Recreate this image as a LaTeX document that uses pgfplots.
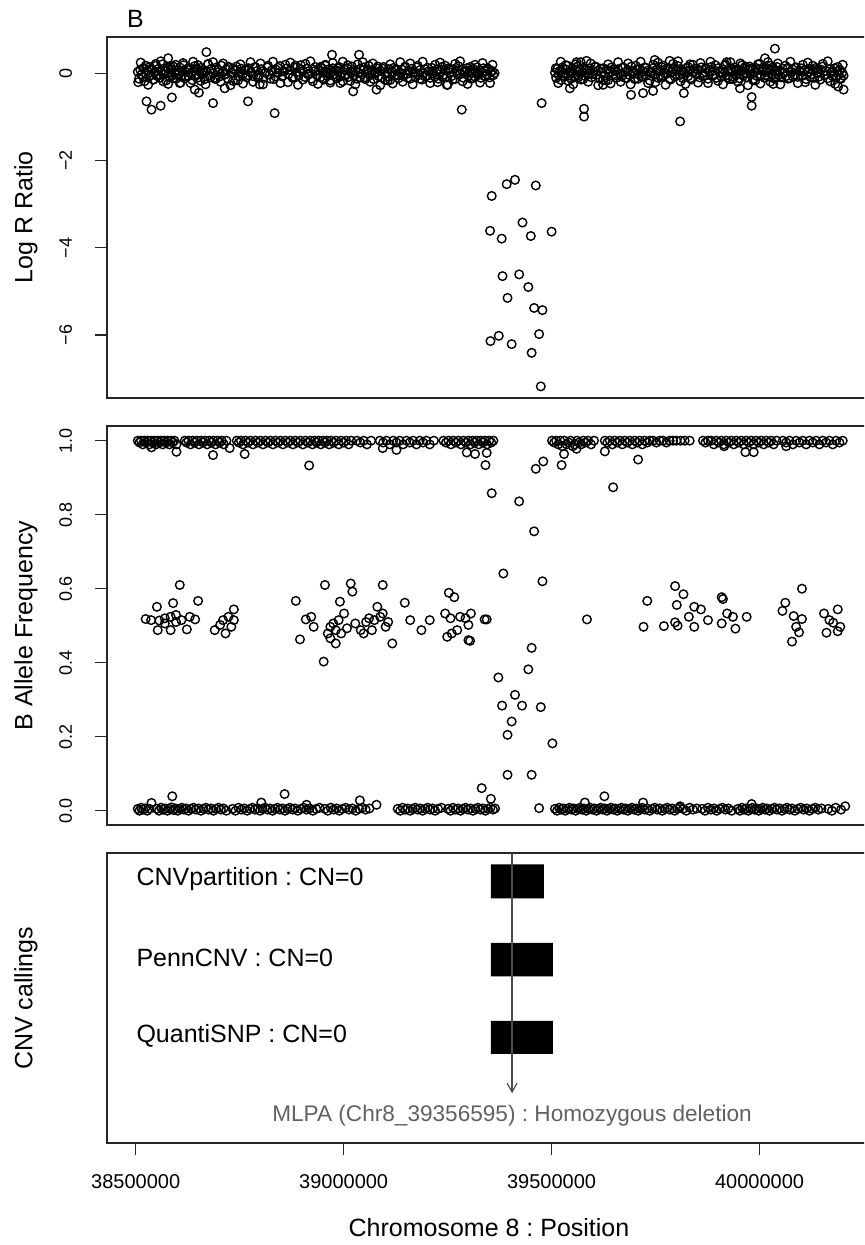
\documentclass[border=0pt]{standalone}
\usepackage{pgfplots}
\pgfplotsset{compat=1.18}
\usetikzlibrary{arrows.meta}
\usepackage{fontspec}
\setmainfont{Liberation Sans}
\frenchspacing
\begin{document}
\begin{tikzpicture}
\useasboundingbox (0,0) rectangle (432pt,622.5pt);
\clip (0,0) rectangle (432pt,622.5pt);
\pgfplotsset{
  myax/.style={
    scale only axis, width=382pt, xmin=38431, xmax=40268,
    scaled x ticks=false, scaled y ticks=false,
    axis line style={line width=0.8pt, black!85},
    tick style={line width=0.6pt, black!85},
    tick align=outside, major tick length=6pt,
    xtick pos=left, ytick pos=left,
    ylabel style={font=\fontsize{12.5}{14}\selectfont, at={(axis description cs:-0.106,0.5)}, anchor=center},
    yticklabel style={font=\fontsize{9}{10}\selectfont, xshift=-8pt, rotate=90, anchor=south},
    xticklabel style={font=\fontsize{10}{12}\selectfont},
  },
  pts/.style={only marks, mark=o, mark size=2.15pt, mark options={line width=0.7pt, black}, black},
}
\node[font=\fontsize{12.5}{14}\selectfont] at (67.75pt,613pt) {B};
% ---------------- Log R Ratio ----------------
\begin{axis}[myax, at={(53.5pt,423.5pt)}, anchor=south west, height=180.5pt,
  ymin=-7.446, ymax=0.838, xtick=\empty, ytick={-6,-4,-2,0}, yticklabels={−6,−4,−2,0},
  ylabel={Log R Ratio}]
\addplot[pts] coordinates {
(38505,0.04) (38508,-0.12) (38511,0.08) (38514,-0.02) (38518,0.12) (38521,-0.18) (38524,0.01) (38528,0.06) (38531,-0.08) (38534,0.15) (38537,-0.04) (38540,0.09) (38543,-0.14) (38546,0.03) (38549,0.18) (38552,-0.06) (38555,0.11) (38558,-0.10) (38561,0.05) (38564,0.21) (38567,-0.03) (38570,0.07) (38573,-0.16) (38576,0.13) (38579,0.00) (38582,-0.09) (38585,0.10) (38588,-0.05) (38591,0.16) (38594,0.02) (38597,-0.12) (38600,0.08) (38603,-0.02) (38606,0.14) (38609,-0.07) (38612,0.05) (38615,0.19) (38618,-0.11) (38621,0.03) (38624,0.09) (38627,-0.06) (38630,0.12) (38633,0.00) (38636,-0.15) (38639,0.07) (38642,0.17) (38645,-0.04) (38648,0.10) (38651,-0.09) (38654,0.04) (38657,0.13) (38660,-0.02) (38663,0.08) (38666,-0.13) (38670,0.06) (38674,0.22) (38678,-0.05) (38682,0.11) (38686,0.01) (38690,-0.10) (38694,0.14) (38698,0.03) (38702,-0.07) (38706,0.18) (38710,0.05) (38714,-0.03) (38718,0.09) (38722,-0.12) (38726,0.13) (38730,0.02) (38734,-0.17) (38738,0.07) (38742,0.16) (38746,-0.06) (38750,0.04) (38754,0.11) (38758,-0.01) (38762,0.08) (38767,-0.09) (38772,0.12) (38777,0.03) (38782,-0.06) (38787,0.15) (38792,0.06) (38797,-0.04) (38802,0.10) (38807,-0.11) (38812,0.02) (38817,0.14) (38822,-0.03) (38827,0.07) (38832,-0.13) (38837,0.09) (38842,0.01) (38847,0.17) (38852,-0.07) (38857,0.05) (38862,0.12) (38867,-0.02) (38872,0.08) (38877,-0.10) (38882,0.14) (38887,0.03) (38892,-0.05) (38897,0.19) (38902,0.06) (38907,-0.08) (38912,0.11) (38917,0.00) (38922,-0.12) (38927,0.09) (38932,0.15) (38936,-0.04) (38940,0.07) (38944,-0.09) (38947,0.13) (38950,0.02) (38953,-0.14) (38956,0.18) (38959,0.05) (38962,-0.06) (38965,0.10) (38968,-0.16) (38971,0.03) (38974,0.12) (38977,-0.02) (38980,0.08) (38983,-0.11) (38986,0.06) (38989,0.15) (38992,-0.07) (38995,0.01) (38998,-0.18) (39001,0.09) (39004,-0.03) (39008,0.12) (39012,-0.08) (39016,0.04) (39020,0.16) (39024,-0.05) (39028,0.07) (39032,-0.12) (39036,0.02) (39040,0.11) (39044,-0.02) (39048,0.14) (39052,-0.09) (39056,0.05) (39060,0.18) (39064,-0.04) (39068,0.08) (39072,-0.13) (39076,0.03) (39080,0.12) (39084,-0.06) (39088,0.06) (39092,-0.10) (39096,0.15) (39100,0.01) (39104,-0.07) (39108,0.10) (39112,-0.15) (39116,0.04) (39120,0.13) (39124,-0.03) (39128,0.07) (39132,-0.11) (39136,0.02) (39140,0.09) (39144,-0.06) (39148,0.16) (39152,-0.01) (39156,0.06) (39160,-0.12) (39164,0.11) (39168,0.03) (39172,-0.08) (39176,0.14) (39180,-0.04) (39184,0.08) (39188,-0.14) (39192,0.01) (39196,0.10) (39200,-0.05) (39204,0.05) (39208,-0.10) (39212,0.13) (39216,0.00) (39220,-0.07) (39224,0.09) (39228,-0.12) (39232,0.04) (39236,0.15) (39240,-0.03) (39244,0.07) (39248,-0.09) (39252,0.12) (39256,0.02) (39260,-0.06) (39264,0.10) (39268,-0.13) (39272,0.06) (39276,0.17) (39280,-0.02) (39284,0.08) (39288,-0.10) (39292,0.03) (39296,0.12) (39300,-0.05) (39303,0.07) (39306,-0.12) (39309,0.01) (39312,0.10) (39315,-0.07) (39318,0.04) (39321,0.14) (39324,-0.03) (39327,0.08) (39330,-0.10) (39333,0.02) (39336,0.12) (39339,-0.06) (39342,0.05) (39345,-0.02) (39348,0.09) (39351,-0.09) (39354,0.03) (39357,0.06) (39360,-0.04) (39363,0.01)
(39508,0.02) (39511,-0.10) (39514,0.11) (39517,-0.03) (39520,0.06) (39523,-0.15) (39526,0.14) (39529,0.00) (39532,-0.07) (39535,0.09) (39538,0.18) (39541,-0.05) (39544,0.04) (39547,-0.12) (39550,0.12) (39553,0.01) (39556,-0.08) (39559,0.07) (39562,0.16) (39565,-0.04) (39568,0.10) (39571,-0.14) (39574,0.03) (39577,0.13) (39580,-0.06) (39584,0.08) (39588,-0.01) (39592,0.11) (39596,-0.09) (39600,0.05) (39604,0.15) (39608,-0.03) (39612,0.07) (39616,-0.12) (39620,0.02) (39624,0.12) (39628,-0.05) (39632,0.09) (39636,-0.15) (39640,0.04) (39644,0.14) (39648,-0.02) (39652,0.06) (39656,-0.10) (39660,0.10) (39664,0.00) (39668,-0.07) (39672,0.13) (39676,0.03) (39680,-0.11) (39684,0.08) (39688,-0.04) (39692,0.16) (39696,0.05) (39700,-0.13) (39704,0.09) (39708,-0.02) (39712,0.11) (39716,-0.08) (39720,0.04) (39724,0.14) (39728,-0.05) (39732,0.07) (39736,-0.16) (39740,0.02) (39744,0.12) (39748,-0.03) (39752,0.08) (39756,-0.10) (39760,0.05) (39764,0.15) (39768,-0.06) (39772,0.09) (39776,-0.01) (39780,0.13) (39784,-0.12) (39788,0.03) (39792,0.10) (39796,-0.07) (39800,0.06) (39804,0.17) (39808,-0.04) (39812,0.08) (39816,-0.11) (39820,0.02) (39824,0.12) (39828,-0.06) (39832,0.07) (39836,-0.14) (39840,0.04) (39844,0.11) (39848,-0.02) (39852,0.09) (39856,-0.09) (39860,0.14) (39864,0.01) (39868,-0.05) (39872,0.10) (39876,-0.12) (39880,0.05) (39884,0.15) (39888,-0.03) (39892,0.07) (39896,-0.10) (39900,0.12) (39904,0.02) (39908,-0.07) (39912,0.09) (39916,0.18) (39920,-0.04) (39924,0.06) (39928,-0.13) (39931,0.11) (39934,0.03) (39937,-0.08) (39940,0.14) (39943,0.05) (39946,-0.03) (39949,0.10) (39952,-0.11) (39955,0.07) (39958,0.19) (39961,-0.05) (39964,0.12) (39967,0.01) (39970,-0.09) (39973,0.08) (39976,0.16) (39979,-0.02) (39982,0.11) (39985,-0.13) (39988,0.04) (39991,0.13) (39994,-0.06) (39997,0.09) (40000,0.22) (40003,-0.04) (40006,0.06) (40009,0.14) (40012,-0.10) (40015,0.03) (40018,0.12) (40021,-0.07) (40024,0.08) (40027,0.18) (40030,-0.02) (40033,0.10) (40036,-0.12) (40039,0.05) (40042,0.15) (40045,-0.04) (40048,0.07) (40052,-0.09) (40056,0.11) (40060,0.02) (40064,-0.06) (40068,0.13) (40072,-0.11) (40076,0.04) (40080,0.09) (40084,-0.03) (40088,0.14) (40092,-0.08) (40096,0.06) (40100,0.12) (40104,-0.05) (40108,0.08) (40112,-0.13) (40116,0.03) (40120,0.11) (40124,-0.02) (40128,0.07) (40132,-0.10) (40136,0.13) (40140,0.01) (40144,-0.07) (40148,0.09) (40152,0.16) (40156,-0.04) (40160,0.06) (40164,-0.11) (40168,0.10) (40172,0.02) (40176,-0.06) (40180,0.12) (40184,-0.09) (40187,0.05) (40190,-0.03) (40193,0.08) (40196,-0.12) (40199,0.02) (40202,-0.05)
(38506,-0.20) (38512,0.25) (38518,-0.08) (38524,0.18) (38530,-0.26) (38536,0.10) (38542,-0.14) (38548,0.22) (38554,-0.02) (38560,0.28) (38566,-0.18) (38572,0.06) (38578,-0.24) (38584,0.15) (38590,-0.11) (38596,0.20) (38602,0.00) (38608,-0.21) (38614,0.24) (38620,-0.06)
(38626,0.12) (38632,-0.22) (38638,0.27) (38644,-0.05) (38650,0.19) (38656,-0.17) (38662,0.03) (38668,-0.25) (38674,0.21) (38680,-0.09) (38686,0.26) (38692,-0.13) (38698,0.08) (38704,-0.19) (38710,0.23) (38716,-0.01) (38722,0.16) (38728,-0.27) (38734,0.11) (38740,-0.15)
(38746,-0.16) (38752,0.21) (38758,-0.23) (38764,0.09) (38770,-0.04) (38776,0.26) (38782,-0.19) (38788,0.14) (38794,-0.10) (38800,0.23) (38806,-0.25) (38812,0.02) (38818,0.18) (38824,-0.12) (38830,0.27) (38836,-0.07) (38842,0.13) (38848,-0.22) (38854,0.05) (38860,0.20)
(38866,-0.20) (38872,0.25) (38878,-0.08) (38884,0.18) (38890,-0.26) (38896,0.10) (38902,-0.14) (38908,0.22) (38914,-0.02) (38920,0.28) (38926,-0.18) (38932,0.06) (38938,-0.24) (38944,0.15) (38950,-0.11) (38956,0.20) (38962,0.00) (38968,-0.21) (38974,0.24) (38980,-0.06)
(38986,0.12) (38992,-0.22) (38998,0.27) (39004,-0.05) (39010,0.19) (39016,-0.17) (39022,0.03) (39028,-0.25) (39034,0.21) (39040,-0.09) (39046,0.26) (39052,-0.13) (39058,0.08) (39064,-0.19) (39070,0.23) (39076,-0.01) (39082,0.16) (39088,-0.27) (39094,0.11) (39100,-0.15)
(39106,-0.16) (39112,0.21) (39118,-0.23) (39124,0.09) (39130,-0.04) (39136,0.26) (39142,-0.19) (39148,0.14) (39154,-0.10) (39160,0.23) (39166,-0.25) (39172,0.02) (39178,0.18) (39184,-0.12) (39190,0.27) (39196,-0.07) (39202,0.13) (39208,-0.22) (39214,0.05) (39220,0.20)
(39226,-0.20) (39232,0.25) (39238,-0.08) (39244,0.18) (39250,-0.26) (39256,0.10) (39262,-0.14) (39268,0.22) (39274,-0.02) (39280,0.28) (39286,-0.18) (39292,0.06) (39298,-0.24) (39304,0.15) (39310,-0.11) (39316,0.20) (39322,0.00) (39328,-0.21) (39334,0.24) (39340,-0.06)
(39346,0.12) (39352,-0.22) (39358,0.20)
(39510,0.12) (39516,-0.22) (39522,0.27) (39528,-0.05) (39534,0.19) (39540,-0.17) (39546,0.03) (39552,-0.25) (39558,0.21) (39564,-0.09) (39570,0.26) (39576,-0.13) (39582,0.08) (39588,-0.19) (39594,0.23) (39600,-0.01) (39606,0.16) (39612,-0.27) (39618,0.11) (39624,-0.15)
(39630,-0.16) (39636,0.21) (39642,-0.23) (39648,0.09) (39654,-0.04) (39660,0.26) (39666,-0.19) (39672,0.14) (39678,-0.10) (39684,0.23) (39690,-0.25) (39696,0.02) (39702,0.18) (39708,-0.12) (39714,0.27) (39720,-0.07) (39726,0.13) (39732,-0.22) (39738,0.05) (39744,0.20)
(39750,-0.20) (39756,0.25) (39762,-0.08) (39768,0.18) (39774,-0.26) (39780,0.10) (39786,-0.14) (39792,0.22) (39798,-0.02) (39804,0.28) (39810,-0.18) (39816,0.06) (39822,-0.24) (39828,0.15) (39834,-0.11) (39840,0.20) (39846,0.00) (39852,-0.21) (39858,0.24) (39864,-0.06)
(39870,0.12) (39876,-0.22) (39882,0.27) (39888,-0.05) (39894,0.19) (39900,-0.17) (39906,0.03) (39912,-0.25) (39918,0.21) (39924,-0.09) (39930,0.26) (39936,-0.13) (39942,0.08) (39948,-0.19) (39954,0.23) (39960,-0.01) (39966,0.16) (39972,-0.27) (39978,0.11) (39984,-0.15)
(39990,-0.16) (39996,0.21) (40002,-0.23) (40008,0.09) (40014,-0.04) (40020,0.26) (40026,-0.19) (40032,0.14) (40038,-0.10) (40044,0.23) (40050,-0.25) (40056,0.02) (40062,0.18) (40068,-0.12) (40074,0.27) (40080,-0.07) (40086,0.13) (40092,-0.22) (40098,0.05) (40104,0.20)
(40110,-0.20) (40116,0.25) (40122,-0.08) (40128,0.18) (40134,-0.26) (40140,0.10) (40146,-0.14) (40152,0.22) (40158,-0.02) (40164,0.28) (40170,-0.18) (40176,0.06) (40182,-0.24) (40188,0.15) (40194,-0.11) (40200,0.20)
(38526,-0.64) (38538,-0.83) (38560,-0.74) (38587,-0.55) (38642,-0.37) (38652,-0.44) (38686,-0.68) (38770,-0.64) (38834,-0.91) (39284,-0.83) (38670,0.49) (38578,0.35) (38972,0.43) (39037,0.43) (39023,-0.41) (39079,-0.37) (38714,-0.34) (38606,-0.22) (38798,-0.25) (39248,-0.26)
(39476,-0.68) (39578,-0.81) (39578,-0.99) (39809,-1.10) (39818,-0.45) (39981,-0.54) (39981,-0.74) (40037,0.57) (40202,-0.37) (40189,-0.30) (39691,-0.49) (39720,-0.45) (39744,-0.40) (39624,-0.26) (39544,-0.34) (39953,-0.34) (40033,-0.24) (39560,0.26) (39584,0.29) (39748,0.31) (39784,0.29) (39833,0.21) (39921,0.26) (40013,0.35)
(39356,-2.81) (39392,-2.54) (39412,-2.44) (39462,-2.57) (39352,-3.61) (39380,-3.79) (39430,-3.42) (39450,-3.73) (39500,-3.63) (39382,-4.65) (39422,-4.61) (39444,-4.90) (39394,-5.15) (39458,-5.38) (39478,-5.43) (39353,-6.14) (39373,-6.02) (39404,-6.21) (39470,-5.98) (39452,-6.41) (39474,-7.18)
};
\end{axis}
% ---------------- B Allele Frequency ----------------
\begin{axis}[myax, at={(53.5pt,210pt)}, anchor=south west, height=199.5pt,
  ymin=-0.0386, ymax=1.0397, xtick=\empty, ytick={0,0.2,0.4,0.6,0.8,1}, yticklabels={0.0,0.2,0.4,0.6,0.8,1.0},
  ylabel={B Allele Frequency}]
\addplot[pts] coordinates {
(38505,1.00) (38509,0.995) (38513,1.00) (38517,0.99) (38521,1.00) (38525,0.995) (38529,1.00) (38533,0.99) (38537,1.00) (38541,0.995) (38545,1.00) (38549,0.99) (38553,1.00) (38557,0.995) (38561,1.00) (38565,0.99) (38569,1.00) (38573,0.995) (38577,1.00) (38581,0.99) (38585,1.00) (38589,0.995) (38593,1.00) (38598,0.99)
(38618,1.00) (38622,0.995) (38627,1.00) (38632,0.99) (38637,1.00) (38642,0.995) (38647,1.00) (38652,0.99) (38657,1.00) (38662,0.995) (38667,1.00) (38672,0.99) (38677,1.00) (38682,0.995) (38687,1.00) (38692,0.99) (38697,1.00) (38702,0.995) (38707,1.00) (38712,0.99) (38718,1.00)
(38743,1.00) (38748,0.995) (38753,1.00) (38758,0.99) (38764,1.00) (38770,0.995) (38776,1.00) (38782,0.99) (38788,1.00) (38794,0.995) (38800,1.00) (38806,0.99) (38812,1.00) (38818,0.995) (38824,1.00) (38830,0.99) (38836,1.00) (38842,0.995) (38848,1.00) (38854,0.99) (38860,1.00) (38866,0.995) (38872,1.00) (38878,0.99) (38884,1.00) (38890,0.995) (38896,1.00) (38902,0.99) (38908,1.00) (38914,0.995) (38920,1.00) (38925,0.99) (38930,1.00) (38935,0.995) (38940,1.00) (38945,0.99) (38950,1.00) (38955,0.995) (38960,1.00) (38965,0.99) (38970,1.00) (38976,0.995) (38982,1.00) (38988,0.99) (38994,1.00) (39000,0.995) (39006,1.00) (39012,0.99) (39018,1.00)
(39032,1.00) (39040,0.995) (39048,1.00) (39056,0.99) (39066,1.00)
(39087,1.00) (39095,0.995) (39103,1.00) (39111,0.99) (39119,1.00) (39127,0.995) (39135,1.00) (39143,0.99) (39151,1.00) (39159,0.995) (39167,1.00) (39175,0.99) (39183,1.00) (39191,0.995) (39199,1.00) (39207,0.99) (39217,1.00)
(39240,1.00) (39246,0.995) (39252,1.00) (39258,0.99) (39264,1.00) (39270,0.995) (39276,1.00) (39282,0.99) (39288,1.00) (39294,0.995) (39300,1.00) (39305,0.99) (39310,1.00) (39315,0.995) (39320,1.00) (39325,0.99) (39330,1.00) (39335,0.995) (39340,1.00) (39345,0.99) (39350,1.00) (39355,0.995) (39360,1.00)
(38538,0.982) (38598,0.970) (38686,0.961) (38726,0.980) (38762,0.964) (38917,0.933) (39094,0.980) (39127,0.975) (39296,0.968) (39316,0.964) (39344,0.967) (39341,0.934) (39356,0.858)
(39501,1.00) (39506,0.995) (39511,1.00) (39516,0.99) (39521,1.00) (39526,0.985) (39531,1.00) (39536,0.99) (39541,0.995) (39546,1.00) (39551,0.985) (39556,0.99) (39561,1.00) (39566,0.995) (39571,0.99) (39576,1.00) (39582,0.995) (39588,1.00) (39595,0.99) (39602,1.00)
(39628,1.00) (39634,0.995) (39640,1.00) (39646,0.99) (39652,1.00) (39658,0.995) (39664,1.00) (39670,0.99) (39676,1.00) (39682,0.995) (39688,1.00) (39694,0.99) (39700,1.00) (39706,0.995) (39712,1.00) (39718,0.99) (39724,1.00) (39730,0.995) (39736,1.00) (39744,1.00) (39752,0.995) (39760,1.00) (39768,1.00) (39776,0.995) (39784,1.00) (39792,1.00) (39800,1.00) (39810,1.00) (39820,1.00) (39832,1.00)
(39864,1.00) (39870,0.995) (39876,1.00) (39884,1.00) (39890,0.99) (39896,1.00) (39902,0.995) (39908,1.00) (39914,0.99) (39920,1.00) (39926,0.995) (39932,1.00) (39938,0.99) (39944,1.00) (39950,0.995) (39956,1.00) (39962,0.99) (39968,1.00) (39974,0.995) (39980,1.00) (39986,0.99) (39992,1.00) (39998,0.995) (40004,1.00) (40010,0.99) (40016,1.00) (40022,0.995) (40028,1.00) (40034,0.99) (40041,1.00)
(40056,1.00) (40064,0.995) (40072,1.00) (40080,0.99) (40088,1.00) (40096,0.995) (40104,1.00) (40112,0.99) (40120,1.00) (40128,0.995) (40136,1.00) (40144,0.99) (40152,1.00) (40160,0.995) (40168,1.00) (40176,0.99) (40184,1.00) (40192,0.995) (40200,1.00)
(39462,0.924) (39480,0.944) (39524,0.934) (39530,0.964) (39560,0.978) (39628,0.971) (39708,0.949) (39648,0.874) (39915,0.985) (39966,0.969) (39986,0.969) (40064,0.985)
(39422,0.836) (39458,0.755) (39384,0.641) (39478,0.620) (39452,0.440) (39444,0.382) (39372,0.360) (39412,0.313) (39381,0.284) (39429,0.284) (39474,0.280) (39404,0.241) (39394,0.205) (39502,0.182) (39394,0.097) (39452,0.097) (39332,0.061) (39354,0.032)
(38606,0.610) (38590,0.561) (38551,0.551) (38650,0.567) (38524,0.518) (38537,0.515) (38557,0.514) (38570,0.520) (38584,0.524) (38597,0.529) (38610,0.515) (38630,0.524) (38643,0.517) (38553,0.488) (38584,0.488) (38623,0.490) (38570,0.506) (38597,0.510)
(38690,0.488) (38716,0.479) (38730,0.497) (38736,0.515) (38736,0.544) (38710,0.515) (38723,0.524) (38703,0.502)
(38885,0.567) (38895,0.463) (38909,0.517) (38922,0.524) (38928,0.497) (38955,0.610) (38952,0.403) (38962,0.479) (38968,0.466) (38981,0.452) (38991,0.565) (39001,0.533) (39017,0.614) (39021,0.592) (39041,0.488) (39048,0.479) (39061,0.520) (39081,0.551) (39088,0.524) (39094,0.610) (39101,0.497) (39117,0.452) (39147,0.562) (39160,0.515)
(38968,0.497) (38975,0.506) (38981,0.488) (38988,0.515) (38994,0.479) (39008,0.493) (39028,0.506) (39054,0.510) (39068,0.488) (39074,0.515) (39094,0.533) (39107,0.510)
(39187,0.488) (39207,0.515) (39244,0.533) (39249,0.470) (39253,0.589) (39266,0.577) (39257,0.520) (39273,0.488) (39293,0.520) (39306,0.533) (39300,0.461) (39339,0.517) (39280,0.524) (39300,0.502) (39260,0.479) (39344,0.517) (39304,0.459)
(39585,0.517)
(39721,0.497) (39730,0.567) (39770,0.499) (39797,0.607) (39801,0.556) (39817,0.585) (39797,0.509) (39803,0.500) (39843,0.551) (39843,0.497) (39859,0.544) (39876,0.515) (39909,0.577) (39912,0.572) (39909,0.506) (39936,0.524) (39942,0.492) (39969,0.524) (39922,0.533) (39830,0.524)
(40055,0.540) (40062,0.562) (40082,0.526) (40102,0.518) (40095,0.482) (40078,0.457) (40102,0.600) (40088,0.497)
(40155,0.533) (40188,0.544) (40168,0.515) (40177,0.508) (40161,0.481) (40188,0.485) (40194,0.497)
(38505,0.005) (38509,0.00) (38513,0.008) (38518,0.003) (38523,0.006) (38528,0.00) (38533,0.005)
(38551,0.005) (38556,0.00) (38561,0.008) (38566,0.003) (38571,0.006) (38576,0.00) (38581,0.005) (38586,0.009) (38591,0.002) (38596,0.006) (38601,0.00) (38606,0.005) (38611,0.008) (38616,0.003) (38621,0.006) (38627,0.00) (38633,0.005) (38639,0.008) (38645,0.003) (38651,0.006) (38657,0.00) (38663,0.005) (38669,0.008) (38675,0.003) (38681,0.006) (38687,0.00) (38693,0.005) (38699,0.008) (38705,0.003) (38711,0.006) (38718,0.00)
(38733,0.005) (38740,0.00) (38747,0.008) (38754,0.003) (38761,0.006) (38768,0.00) (38775,0.005) (38781,0.008) (38787,0.003) (38793,0.006) (38799,0.00) (38805,0.005) (38811,0.008) (38817,0.003) (38823,0.006) (38829,0.00) (38835,0.005) (38841,0.008) (38847,0.003) (38853,0.006) (38859,0.00) (38865,0.005) (38871,0.008) (38877,0.003) (38883,0.006) (38890,0.00) (38897,0.005) (38904,0.008) (38911,0.003) (38918,0.006) (38926,0.00) (38934,0.005) (38942,0.008)
(38955,0.005) (38962,0.00) (38969,0.008) (38976,0.003) (38983,0.006) (38990,0.00) (38997,0.005) (39005,0.008) (39013,0.003) (39021,0.006) (39029,0.00) (39037,0.005) (39045,0.008) (39053,0.003) (39062,0.006)
(39130,0.005) (39136,0.00) (39142,0.008) (39148,0.003) (39154,0.006) (39160,0.00) (39166,0.005) (39172,0.008) (39178,0.003) (39184,0.006) (39190,0.00) (39196,0.005) (39202,0.008) (39208,0.003) (39214,0.006) (39220,0.00) (39227,0.005) (39235,0.008)
(39251,0.005) (39257,0.00) (39263,0.008) (39269,0.003) (39275,0.006) (39281,0.00) (39287,0.005) (39293,0.008) (39299,0.003) (39305,0.006) (39311,0.00) (39317,0.005) (39323,0.008) (39329,0.003) (39335,0.006) (39341,0.00) (39347,0.005) (39353,0.008) (39359,0.003) (39364,0.006)
(39470,0.007)
(39508,0.005) (39513,0.00) (39518,0.008) (39523,0.003) (39528,0.006) (39533,0.00) (39538,0.005) (39543,0.008) (39548,0.003) (39553,0.006) (39558,0.00) (39563,0.005) (39568,0.008) (39573,0.003) (39578,0.006) (39583,0.00) (39588,0.005) (39593,0.008) (39598,0.003) (39603,0.006) (39608,0.00) (39613,0.005) (39618,0.008) (39623,0.003) (39628,0.006) (39633,0.00) (39638,0.005) (39643,0.008) (39648,0.003) (39653,0.006) (39658,0.00) (39663,0.005) (39668,0.008) (39673,0.003) (39678,0.006) (39683,0.00) (39688,0.005) (39693,0.008) (39698,0.003) (39703,0.006) (39708,0.00) (39713,0.005) (39718,0.008) (39724,0.003) (39730,0.006) (39736,0.00) (39742,0.005) (39748,0.008) (39754,0.003) (39760,0.006) (39766,0.00) (39772,0.005) (39778,0.008) (39784,0.003) (39790,0.006) (39796,0.00) (39802,0.005) (39808,0.008)
(39816,0.005) (39824,0.00) (39832,0.008) (39840,0.003) (39849,0.006)
(39862,0.005) (39869,0.00) (39876,0.008) (39883,0.003) (39890,0.006) (39897,0.00) (39904,0.005) (39911,0.008) (39918,0.003) (39925,0.006) (39933,0.00)
(39948,0.005) (39953,0.00) (39958,0.008) (39963,0.003) (39968,0.006) (39973,0.00) (39978,0.005) (39983,0.008) (39988,0.003) (39993,0.006) (39998,0.00) (40003,0.005) (40008,0.008) (40013,0.003) (40018,0.006) (40024,0.00) (40030,0.005) (40036,0.008) (40042,0.003) (40048,0.006) (40054,0.00) (40060,0.005) (40066,0.008) (40072,0.003) (40078,0.006) (40085,0.00) (40092,0.005) (40099,0.008) (40106,0.003) (40113,0.006) (40120,0.00) (40127,0.005) (40134,0.008) (40141,0.003) (40149,0.006)
(40165,0.005) (40174,0.00) (40183,0.008) (40196,0.003) (40206,0.012)
(38538,0.021) (38588,0.039) (38802,0.022) (38858,0.045) (38911,0.016) (39039,0.028) (39079,0.016) (39580,0.022) (39627,0.039) (39720,0.022) (39809,0.012) (39981,0.018)
};
\end{axis}
% ---------------- CNV callings ----------------
\begin{axis}[myax, at={(53.5pt,50.85pt)}, anchor=south west, height=145pt,
  ymin=0, ymax=290, ytick=\empty,
  xtick={38500,39000,39500,40000}, xticklabels={38500000,39000000,39500000,40000000},
  xticklabel shift=6pt,
  ylabel={CNV callings},
  xlabel={Chromosome 8 : Position},
  xlabel style={font=\fontsize{12.5}{14}\selectfont, at={(axis description cs:0.5,-0.29)}, anchor=center}]
\addplot[fill=black, draw=none] coordinates {(39354,245) (39481.6,245) (39481.6,279) (39354,279) (39354,245)};
\addplot[fill=black, draw=none] coordinates {(39354,167) (39503.3,167) (39503.3,200.5) (39354,200.5) (39354,167)};
\addplot[fill=black, draw=none] coordinates {(39354,89.5) (39503.3,89.5) (39503.3,122.5) (39354,122.5) (39354,89.5)};
\draw[-{Straight Barb[length=4.5pt,width=5pt]}, line width=0.6pt, black!70] (axis cs:39405,290) -- (axis cs:39405,50);
\node[anchor=west, inner sep=0pt, font=\fontsize{12.5}{14}\selectfont] at (axis cs:38501,264) {CNVpartition : CN=0};
\node[anchor=west, inner sep=0pt, font=\fontsize{12.5}{14}\selectfont] at (axis cs:38501,185) {PennCNV : CN=0};
\node[anchor=west, inner sep=0pt, font=\fontsize{12.5}{14}\selectfont] at (axis cs:38501,107) {QuantiSNP : CN=0};
\node[font=\fontsize{11.3}{13}\selectfont, text=black!62] at (axis cs:39405,27.5) {MLPA (Chr8\_39356595) : Homozygous deletion};
\end{axis}
\end{tikzpicture}
\end{document}
